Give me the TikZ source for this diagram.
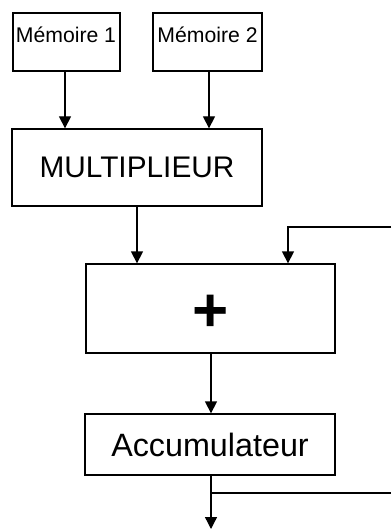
\documentclass[tikz,border=0pt]{standalone}
\usepackage{fontspec}
\setmainfont{Liberation Sans}
\usetikzlibrary{arrows.meta}
\begin{document}
\begin{tikzpicture}[x=1pt,y=-1pt,
  blk/.style={draw,line width=1.3pt,inner sep=0pt},
  wire/.style={line width=1.3pt},
  flow/.style={wire,-{Triangle[width=12pt,length=12pt]}}]
\useasboundingbox (0,0) rectangle (391,529);
% memories
\node[blk,minimum width=107pt,minimum height=58pt] (m1) at (66.5,42) {};
\node[anchor=base,font=\fontsize{21.2}{22}\selectfont] at (66,43) {Mémoire 1};
\node[blk,minimum width=109pt,minimum height=58pt] (m2) at (207.5,42) {};
\node[anchor=base,font=\fontsize{21.2}{22}\selectfont] at (207.5,43) {Mémoire 2};
% multiplier
\node[blk,minimum width=250pt,minimum height=77pt,font=\fontsize{29.8}{30}\selectfont] (mul) at (137,167.5) {MULTIPLIEUR};
% adder
\node[blk,minimum width=249pt,minimum height=89pt] (add) at (210.5,308.5) {};
\node[font=\bfseries\fontsize{62}{62}\selectfont] (plus) at (210.5,313) {+};
% accumulator
\node[blk,minimum width=250pt,minimum height=61pt,font=\fontsize{32.3}{33}\selectfont] (acc) at (210,444.5) {Accumulateur};
% edge coordinates
\coordinate (fbin) at (391,227);
\coordinate (fbout) at (391,493);
\coordinate (tap) at (211,493);
\coordinate (out) at (211,529);
% connectors
\draw[flow] (m1.south -| 65,0) -- (mul.north -| 65,0);
\draw[flow] (m2.south -| 209,0) -- (mul.north -| 209,0);
\draw[flow] (mul.south) -- (add.north -| mul.south);
\draw[flow] (fbin) -| (add.north -| 288,0);
\draw[flow] (add.south -| 211,0) -- (acc.north -| 211,0);
\draw[flow] (acc.south -| 211,0) -- (out);
\draw[wire] (tap) -- (fbout);
\end{tikzpicture}
\end{document}
